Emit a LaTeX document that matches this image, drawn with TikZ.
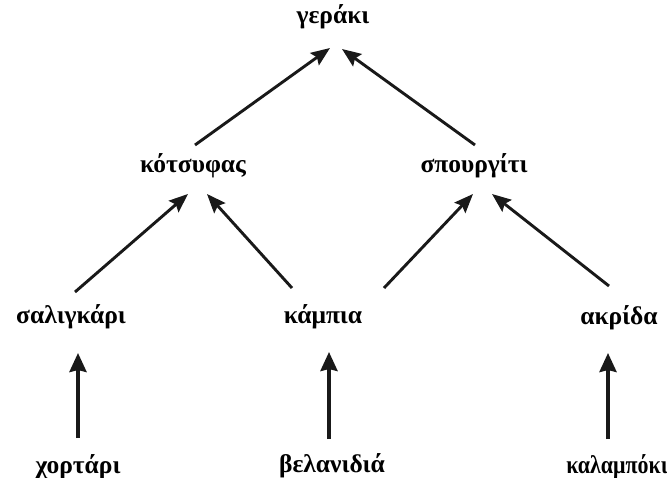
\documentclass[tikz,border=0pt]{standalone}
\usepackage{fontspec}
\setmainfont{Liberation Serif}
\usetikzlibrary{arrows.meta}
\begin{document}
\begin{tikzpicture}[x=1pt,y=-1pt,
  lbl/.style={anchor=base,inner sep=0pt,font=\fontsize{25.5}{30}\selectfont\bfseries},
  diag/.style={line width=2.9pt,draw=black!90,-{Stealth[length=19pt,width=15pt,inset=3pt]}},
  vert/.style={line width=3.6pt,draw=black!90,-{Stealth[length=19pt,width=17pt,inset=2pt]}}]
\useasboundingbox (0,0) rectangle (667,477);
\node[lbl] (ger) at (333,23) {γεράκι};
\node[lbl] (kot) at (193,172) {κότσυφας};
\node[lbl] (spo) at (474,172) {σπουργίτι};
\node[lbl] (sal) at (71,323) {σαλιγκάρι};
\node[lbl] (kam) at (323,323) {κάμπια};
\node[lbl] (akr) at (619,324) {ακρίδα};
\node[lbl] (xor) at (78,473) {χορτάρι};
\node[lbl] (bel) at (332,472) {βελανιδιά};
\node[lbl] (kal) at (617,473) {\scalebox{0.86}[1]{καλαμπόκι}};
\draw[diag] ([shift={(2,-27)}]kot.base) -- ([shift={(-3,25)}]ger.base);
\draw[diag] ([shift={(1,-27)}]spo.base) -- ([shift={(9,26)}]ger.base);
\draw[diag] ([shift={(4,-31)}]sal.base) -- ([shift={(-5,22)}]kot.base);
\draw[diag] ([shift={(-31,-35)}]kam.base) -- ([shift={(14,22)}]kot.base);
\draw[diag] ([shift={(61,-35)}]kam.base) -- ([shift={(-1,22)}]spo.base);
\draw[diag] ([shift={(-10,-38)}]akr.base) -- ([shift={(18,22)}]spo.base);
\draw[vert] ([shift={(0,-35)}]xor.base) -- ([shift={(7,30)}]sal.base);
\draw[vert] ([shift={(-3,-33)}]bel.base) -- ([shift={(6,29)}]kam.base);
\draw[vert] ([shift={(-9,-34)}]kal.base) -- ([shift={(-11,29)}]akr.base);
\end{tikzpicture}
\end{document}
